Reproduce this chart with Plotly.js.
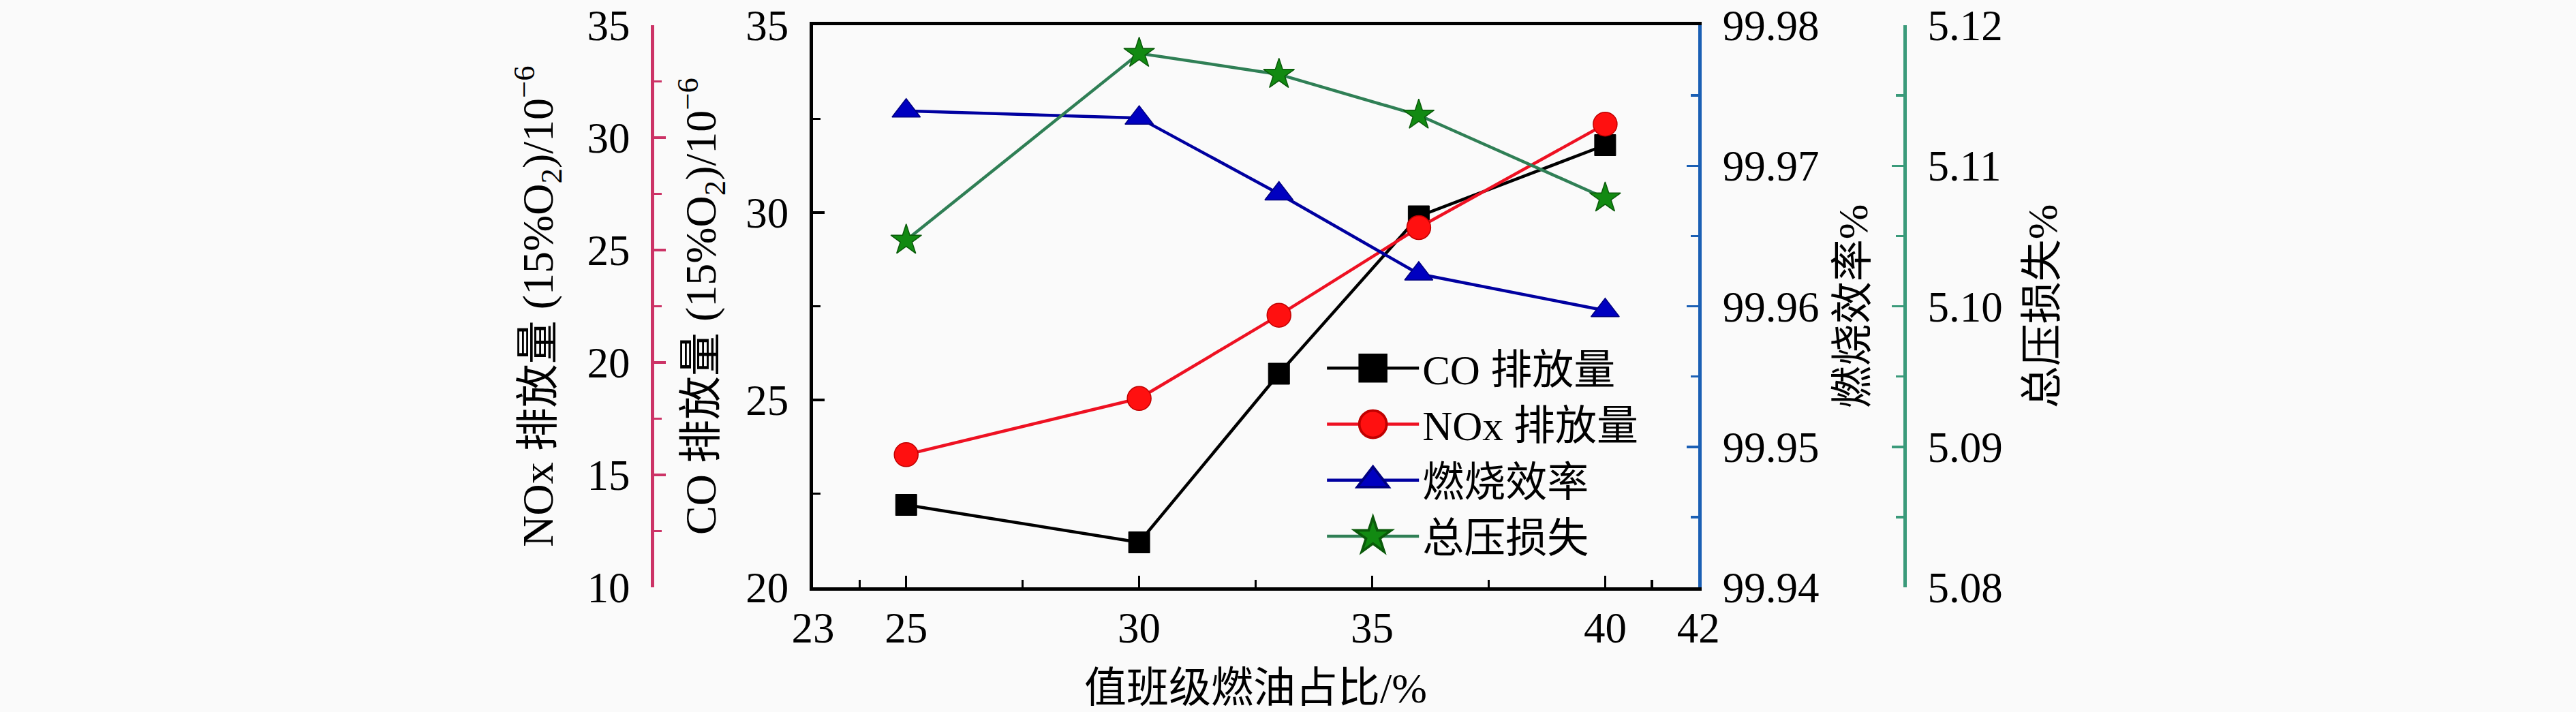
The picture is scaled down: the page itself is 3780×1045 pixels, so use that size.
<!DOCTYPE html>
<html><head><meta charset="utf-8">
<script src="https://cdn.plot.ly/plotly-3.0.1.min.js"></script>
<style>html,body{margin:0;padding:0;background:#fafafa}</style>
</head><body><div id="chart" style="width:3780px;height:1045px"></div>
<script>
// ---- data ----
const fuelRatio = [25, 30, 33, 36, 40];
const coEmission = [22.2, 21.2, 25.7, 29.9, 31.8];
const noxEmission = [15.9, 18.4, 22.1, 26.0, 30.6];
const combustionEff = [99.9739, 99.9734, 99.9680, 99.9623, 99.9597];
const pressureLoss = [5.1047, 5.1180, 5.1165, 5.1136, 5.1077];
const seriesNames = ['CO 排放量', 'NOx 排放量', '燃烧效率', '总压损失'];
const xTickVals = [23, 25, 30, 35, 40, 42];
const xMinorVals = [24, 27.5, 32.5, 37.5, 41];
const coTicks = [20, 25, 30, 35];
const coMinor = [22.5, 27.5, 32.5];
const noxTicks = [10, 15, 20, 25, 30, 35];
const noxMinor = [12.5, 17.5, 22.5, 27.5, 32.5];
const effTicks = [99.94, 99.95, 99.96, 99.97, 99.98];
const effMinor = [99.945, 99.955, 99.965, 99.975];
const lossTicks = [5.08, 5.09, 5.10, 5.11, 5.12];
const lossMinor = [5.085, 5.095, 5.105, 5.115];

const FONT = 'Liberation Serif, "Times New Roman", "Noto Sans CJK SC", serif';
const tickFont = {family: FONT, size: 63, color: '#000'};
const titleFont = {family: FONT, size: 62, color: '#000'};
const leftTitleFont = {family: FONT, size: 64, color: '#000'};
const PINK = '#cc3366', BLUE = '#1a5fb4', TEAL = '#3a9a7a';

const traces = [
  {x: fuelRatio, y: coEmission, name: seriesNames[0], yaxis: 'y', mode: 'lines+markers',
   line: {color: '#000000', width: 4.5},
   marker: {symbol: 'square', size: 31, color: '#000000', line: {color: '#000', width: 1}}},
  {x: fuelRatio, y: noxEmission, name: seriesNames[1], yaxis: 'y2', mode: 'lines+markers',
   line: {color: '#ee1122', width: 4.5},
   marker: {symbol: 'circle', size: 35, color: '#ff1010', line: {color: '#c00000', width: 1.5}}},
  {x: fuelRatio, y: combustionEff, name: seriesNames[2], yaxis: 'y3', mode: 'lines+markers',
   line: {color: '#0000a0', width: 4.5},
   marker: {symbol: 'triangle-up', size: 36, color: '#0000c0', line: {color: '#000080', width: 1.5}}},
  {x: fuelRatio, y: pressureLoss, name: seriesNames[3], yaxis: 'y4', mode: 'lines+markers',
   line: {color: '#2f7f55', width: 4.5},
   marker: {symbol: 'star', size: 34, color: '#128a12', line: {color: '#0a5a0a', width: 1.5}}}
];

function yAxisBase(color, ticks, minor, range) {
  return {
    range: range, tickvals: ticks, ticks: 'inside', ticklen: 17, tickwidth: 3.5, tickcolor: color,
    showline: true, linewidth: 5, linecolor: color, showgrid: false, zeroline: false,
    tickfont: tickFont, ticklabelstandoff: 18,
    minor: {tickvals: minor, ticks: 'inside', ticklen: 11, tickwidth: 3.5, tickcolor: color, showgrid: false}
  };
}

const layout = {
  width: 3780, height: 1045,
  paper_bgcolor: '#fafafa', plot_bgcolor: '#fafafa',
  margin: {l: 0, r: 0, t: 37, b: 183},
  showlegend: true,
  legend: {x: 0.5138, y: 0.446, xanchor: 'left', yanchor: 'top', font: {family: FONT, size: 61, color: '#000'},
           itemwidth: 135, bgcolor: 'rgba(0,0,0,0)', borderwidth: 0, tracegroupgap: 0},
  xaxis: {
    domain: [0.3156, 0.6593], range: [23, 42], tickvals: xTickVals, ticks: 'inside', ticklen: 17,
    tickwidth: 3.5, tickcolor: '#000', showline: true, linewidth: 5, linecolor: '#000', mirror: true,
    showgrid: false, zeroline: false, tickfont: tickFont, ticklabelstandoff: 0,
    minor: {tickvals: xMinorVals, ticks: 'inside', ticklen: 11, tickwidth: 3.5, tickcolor: '#000', showgrid: false},
    title: {text: '值班级燃油占比/%', font: titleFont, standoff: 34}
  },
  yaxis: Object.assign(yAxisBase('#000', coTicks, coMinor, [20, 35]), {
    title: {text: 'CO 排放量 (15%O<sub>2</sub>)/10<sup>−6</sup>', font: leftTitleFont, standoff: 24}
  }),
  yaxis2: Object.assign(yAxisBase(PINK, noxTicks, noxMinor, [10, 35]), {
    overlaying: 'y', anchor: 'free', position: 0.2532, side: 'left',
    title: {text: 'NOx 排放量 (15%O<sub>2</sub>)/10<sup>−6</sup>', font: leftTitleFont, standoff: 28}
  }),
  yaxis3: Object.assign(yAxisBase(BLUE, effTicks, effMinor, [99.94, 99.98]), {
    overlaying: 'y', anchor: 'x', side: 'right', tickformat: '.2f',
    title: {text: '燃烧效率%', font: titleFont, standoff: 30}
  }),
  yaxis4: Object.assign(yAxisBase(TEAL, lossTicks, lossMinor, [5.08, 5.12]), {
    overlaying: 'y', anchor: 'free', position: 0.7394, side: 'right', tickformat: '.2f',
    title: {text: '总压损失%', font: titleFont, standoff: 36}
  })
};

function enlargeLegendMarkers() {
  const cx = (layout.legend.itemwidth + 10) / 2;
  document.querySelectorAll('.legend .legendpoints path').forEach(function (p) {
    p.setAttribute('transform', 'translate(' + cx + ',0) scale(2.5)');
  });
}

const gd = document.getElementById('chart');
Plotly.newPlot(gd, traces, layout, {staticPlot: true}).then(function () {
  enlargeLegendMarkers();
  gd.on('plotly_afterplot', enlargeLegendMarkers);
});
</script>
</body></html>
